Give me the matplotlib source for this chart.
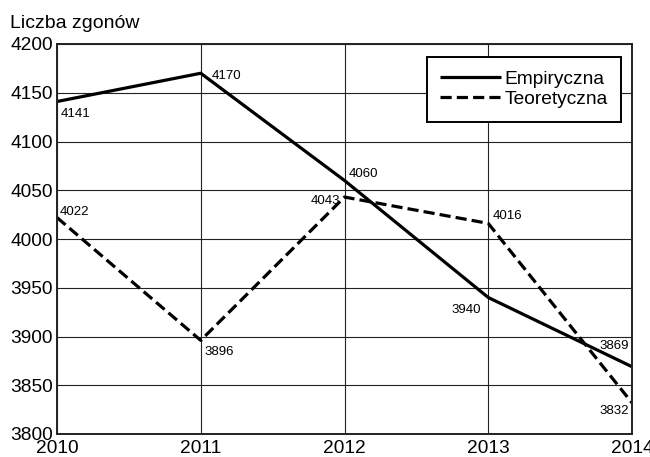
"""
Liczba zgonów 2010-2014: empirical vs theoretical series
"""

import matplotlib
matplotlib.use('Agg')
from matplotlib import pyplot

YEARS = [2010, 2011, 2012, 2013, 2014]
EMPIRYCZNA = [4141, 4170, 4060, 3940, 3869]
TEORETYCZNA = [4022, 3896, 4043, 4016, 3832]
Y_TICKS = [3800, 3850, 3900, 3950, 4000, 4050, 4100, 4150, 4200]

# offsets (points) and alignment for each value label
EMP_LABEL_POS = [(3, -9, 'left'), (8, -2, 'left'), (3, 5, 'left'), (-5, -9, 'right'), (-2, 15, 'right')]
TEO_LABEL_POS = [(2, 4, 'left'), (3, -8, 'left'), (-3, -3, 'right'), (3, 5, 'left'), (-2, -6, 'right')]

pyplot.rcParams['font.family'] = ['Liberation Sans', 'DejaVu Sans']

fig = pyplot.figure(figsize=(6.5, 4.57), dpi=100)
ax = fig.add_axes([57 / 650, 1 - 434 / 457, 575 / 650, 390 / 457])

ax.plot(YEARS, EMPIRYCZNA, color='black', lw=2.3, label='Empiryczna', solid_capstyle='butt')
ax.plot(YEARS, TEORETYCZNA, color='black', lw=2.3, ls=(0, (3.5, 1.6)), label='Teoretyczna',
        dash_capstyle='butt')

for x, y, (dx, dy, ha) in zip(YEARS, EMPIRYCZNA, EMP_LABEL_POS):
    ax.annotate(str(y), (x, y), xytext=(dx, dy), textcoords='offset points',
                ha=ha, va='center', fontsize=9.5)
for x, y, (dx, dy, ha) in zip(YEARS, TEORETYCZNA, TEO_LABEL_POS):
    ax.annotate(str(y), (x, y), xytext=(dx, dy), textcoords='offset points',
                ha=ha, va='center', fontsize=9.5)

ax.set_xlim(2010, 2014)
ax.set_ylim(3800, 4200)
ax.set_xticks(YEARS)
ax.set_yticks(Y_TICKS)
ax.tick_params(axis='both', length=0, labelsize=13.8)
ax.tick_params(axis='x', pad=4)
ax.tick_params(axis='y', pad=3)
ax.grid(True, color='#222222', lw=0.8)
ax.set_axisbelow(True)
for spine in ax.spines.values():
    spine.set_linewidth(1.4)
    spine.set_color('#222222')

leg = ax.legend(loc='upper right', bbox_to_anchor=(564 / 575, 377 / 390), fontsize=13.8,
                frameon=True, fancybox=False, edgecolor='black', framealpha=1,
                handlelength=3.2, handletextpad=0.15, labelspacing=0.15,
                borderpad=0.7, borderaxespad=0)
leg.get_frame().set_linewidth(1.4)

fig.text(10 / 650, 1 - 28 / 457, 'Liczba zgonów', fontsize=14, ha='left', va='baseline')

fig.savefig('out.png', dpi=100)
